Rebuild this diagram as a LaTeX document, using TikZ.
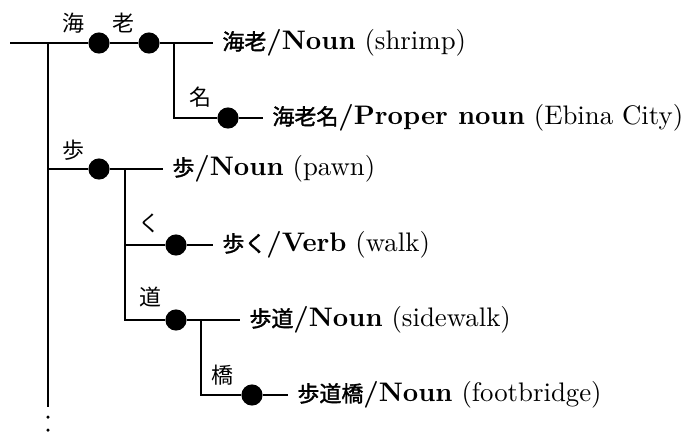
\documentclass[tikz,border=0pt]{standalone}
\usepackage{fontspec}
\newfontfamily\cjk[Scale=0.82]{Noto Sans CJK JP}
\newfontfamily\cjkbf[Scale=0.82,FakeBold=1.6]{Noto Sans CJK JP}
\usetikzlibrary{positioning}

\begin{document}
\begin{tikzpicture}[x=0.373pt, y=-0.373pt, line width=0.45pt,
    dot/.style={circle, fill, inner sep=0pt, minimum size=7.9pt},
    moredot/.style={circle, fill, inner sep=0pt, minimum size=1.3pt},
    entry/.style={anchor=west, inner xsep=3.3pt, inner ysep=0pt},
    lbl/.style={font=\cjk, inner sep=0pt}
    ]
    \useasboundingbox (0,0) rectangle (690,434);

    % Nodes of the trie
    \node[dot] (ebi1) at (99,43) {};
    \node[dot] (ebi2) at (149,43) {};
    \node[dot] (ebina) at (228,118) {};
    \node[dot] (ho) at (99,169) {};
    \node[dot] (aruku) at (176,245) {};
    \node[dot] (hodou) at (176,320) {};
    \node[dot] (kyou) at (252,395) {};

    % Dictionary entries
    \node[entry] (e-ebi) at (213,43) {{\cjkbf 海老}\textbf{/Noun} (shrimp)};
    \node[entry] (e-ebina) at (263,118) {{\cjkbf 海老名}\textbf{/Proper noun} (Ebina City)};
    \node[entry] (e-ho) at (163,169) {{\cjkbf 歩}\textbf{/Noun} (pawn)};
    \node[entry] (e-aruku) at (213,245) {{\cjkbf 歩く}\textbf{/Verb} (walk)};
    \node[entry] (e-hodou) at (240,320) {{\cjkbf 歩道}\textbf{/Noun} (sidewalk)};
    \node[entry] (e-kyou) at (288,395) {{\cjkbf 歩道橋}\textbf{/Noun} (footbridge)};

    % Branch points
    \coordinate (root) at (10,43);
    \coordinate (j0) at (48,43);
    \coordinate (jend) at (48,407);
    \coordinate (j1) at (48,169);
    \coordinate (j2) at (174,43);
    \coordinate (j4) at (125,169);
    \coordinate (j7) at (201,320);

    % Edges
    \draw (root) -- (ebi1) -- (ebi2) -- (e-ebi.west);
    \draw (j0) -- (jend);
    \draw (j2) |- (ebina) -- (e-ebina.west);
    \draw (j1) -- (ho) -- (e-ho.west);
    \draw (j4) |- (aruku) -- (e-aruku.west);
    \draw (j4) |- (hodou) -- (e-hodou.west);
    \draw (j7) |- (kyou) -- (e-kyou.west);

    % Edge labels
    \node[lbl] (l-umi) at (73,23) {海};
    \node[lbl] (l-rou) at (123,23) {老};
    \node[lbl] (l-na) at (200,97) {名};
    \node[lbl] (l-ho) at (73,150) {歩};
    \node[lbl] (l-ku) at (149,223) {く};
    \node[lbl] (l-dou) at (150,297) {道};
    \node[lbl] (l-kyou) at (222,375) {橋};

    % More entries below
    \foreach \y [count=\i] in {417,430}
        \node[moredot] (more\i) at (48,\y) {};

\end{tikzpicture}
\end{document}
